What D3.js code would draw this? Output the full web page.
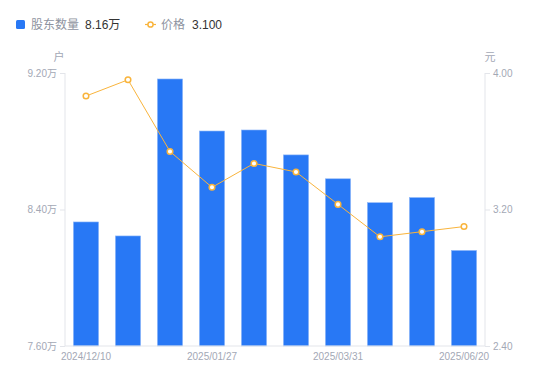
<!DOCTYPE html>
<html><head><meta charset="utf-8">
<script src="https://cdn.jsdelivr.net/npm/d3@7"></script>
<style>body{margin:0;background:#fff;}svg{display:block;font-family:"Liberation Sans","Noto Sans CJK SC",sans-serif;}</style>
</head><body>
<svg id="c" width="550" height="381"></svg>
<script>
const categories = ["2024/12/10","2024/12/31","2025/01/10","2025/01/27","2025/02/10","2025/02/28","2025/03/31","2025/04/30","2025/05/20","2025/06/20"];
const holders = [8.327, 8.245, 9.165, 8.86, 8.866, 8.72, 8.58, 8.44, 8.47, 8.16];
const prices = [3.865, 3.96, 3.54, 3.33, 3.47, 3.42, 3.23, 3.04, 3.07, 3.10];
const leftTicks = [7.60, 8.40, 9.20];
const rightTicks = [2.40, 3.20, 4.00];
const shownLabels = ["2024/12/10","2025/01/27","2025/03/31","2025/06/20"];

const FONT = "'Liberation Sans','Noto Sans CJK SC',sans-serif";
const svg = d3.select("#c");
const L = 65, R = 485, T = 73, B = 346;
const x = d3.scaleBand().domain(categories).range([L, R]).paddingInner(0.4).paddingOuter(0.2);
const yL = d3.scaleLinear().domain([7.6, 9.2]).range([B, T]);
const yR = d3.scaleLinear().domain([2.4, 4.0]).range([B, T]);
const axisCol = "#e3e5ea", textCol = "#a3a8b5";

// bars
svg.append("g").selectAll("rect").data(holders).join("rect")
  .attr("x", (d,i) => x(categories[i]))
  .attr("y", d => yL(d))
  .attr("width", x.bandwidth())
  .attr("height", d => B - yL(d))
  .attr("fill", "#2878f5")
  .attr("stroke", "#8fb8f8").attr("stroke-width", 0.6);

// axes
const gl = svg.append("g").attr("transform", `translate(${L},0)`)
  .call(d3.axisLeft(yL).tickValues(leftTicks).tickSize(5).tickPadding(3).tickFormat(d => d3.format(".2f")(d) + "万"));
const gr = svg.append("g").attr("transform", `translate(${R},0)`)
  .call(d3.axisRight(yR).tickValues(rightTicks).tickSize(5).tickPadding(3).tickFormat(d3.format(".2f")));
const gb = svg.append("g").attr("transform", `translate(0,${B})`)
  .call(d3.axisBottom(x).tickValues(shownLabels).tickSize(0).tickPadding(7));
[gl, gr, gb].forEach(g => {
  g.selectAll("path.domain").attr("stroke", axisCol);
  g.selectAll(".tick line").attr("stroke", axisCol);
  g.selectAll("text").attr("fill", textCol).attr("font-size", 10).attr("font-family", FONT);
});
gl.select("path.domain").attr("d", `M0,${T}V${B}`);
gr.select("path.domain").attr("d", `M0,${T}V${B}`);
gb.select("path.domain").attr("d", `M${L},0H${R}`);

// unit labels
svg.append("text").attr("x", 59).attr("y", 61).attr("text-anchor", "middle").attr("font-size", 11).attr("fill", textCol).text("户");
svg.append("text").attr("x", 490).attr("y", 61).attr("text-anchor", "middle").attr("font-size", 11).attr("fill", textCol).text("元");

// line
const cx = (i) => x(categories[i]) + x.bandwidth()/2;
const line = d3.line().x((d,i) => cx(i)).y(d => yR(d));
svg.append("path").datum(prices).attr("d", line).attr("fill", "none").attr("stroke", "#f9b43c").attr("stroke-width", 1);
svg.append("g").selectAll("circle").data(prices).join("circle")
  .attr("cx", (d,i) => cx(i)).attr("cy", d => yR(d)).attr("r", 2.8)
  .attr("fill", "#fff").attr("stroke", "#f9b43c").attr("stroke-width", 1.5);

// legend
const lg = svg.append("g").attr("font-size", 12);
lg.append("rect").attr("x", 16).attr("y", 20).attr("width", 9).attr("height", 9).attr("rx", 1.5).attr("fill", "#2878f5");
lg.append("text").attr("x", 31).attr("y", 29).attr("fill", "#8e93a0").text("股东数量");
lg.append("text").attr("x", 85).attr("y", 29).attr("fill", "#333").text(d3.format(".2f")(holders[holders.length-1]) + "万");
lg.append("line").attr("x1", 145).attr("x2", 156).attr("y1", 24.5).attr("y2", 24.5).attr("stroke", "#f9b43c").attr("stroke-width", 1.2);
lg.append("circle").attr("cx", 150.5).attr("cy", 24.5).attr("r", 2.6).attr("fill", "#fff").attr("stroke", "#f9b43c").attr("stroke-width", 1.5);
lg.append("text").attr("x", 161).attr("y", 29).attr("fill", "#8e93a0").text("价格");
lg.append("text").attr("x", 192).attr("y", 29).attr("fill", "#333").text(d3.format(".3f")(prices[prices.length-1]));
</script>
</body></html>
